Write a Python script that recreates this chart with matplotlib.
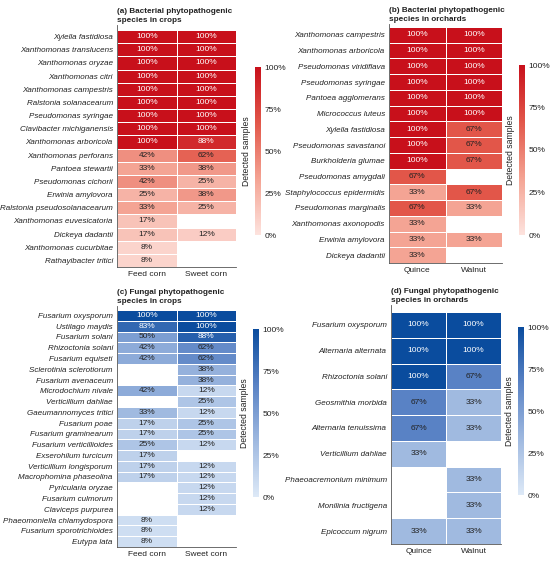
import numpy as np
import matplotlib
matplotlib.use('Agg')
import matplotlib.pyplot as plt
from matplotlib.colors import LinearSegmentedColormap

plt.rcParams['font.family'] = ['Liberation Sans', 'DejaVu Sans']

nan = np.nan

# (a) bacteria in crops
bac_crop_species = ['Xylella fastidiosa', 'Xanthomonas translucens', 'Xanthomonas oryzae',
                    'Xanthomonas citri', 'Xanthomonas campestris', 'Ralstonia solanacearum',
                    'Pseudomonas syringae', 'Clavibacter michiganensis', 'Xanthomonas arboricola',
                    'Xanthomonas perforans', 'Pantoea stewartii', 'Pseudomonas cichorii',
                    'Erwinia amylovora', 'Ralstonia pseudosolanacearum', 'Xanthomonas euvesicatoria',
                    'Dickeya dadantii', 'Xanthomonas cucurbitae', 'Rathayibacter tritici']
bac_feed = [100, 100, 100, 100, 100, 100, 100, 100, 100, 42, 33, 42, 25, 33, 17, 17, 8, 8]
bac_sweet = [100, 100, 100, 100, 100, 100, 100, 100, 88, 62, 38, 25, 38, 25, nan, 12, nan, nan]

# (b) bacteria in orchards
bac_orch_species = ['Xanthomonas campestris', 'Xanthomonas arboricola', 'Pseudomonas viridiflava',
                    'Pseudomonas syringae', 'Pantoea agglomerans', 'Micrococcus luteus',
                    'Xylella fastidiosa', 'Pseudomonas savastanoi', 'Burkholderia glumae',
                    'Pseudomonas amygdali', 'Staphylococcus epidermidis', 'Pseudomonas marginalis',
                    'Xanthomonas axonopodis', 'Erwinia amylovora', 'Dickeya dadantii']
bac_quince = [100, 100, 100, 100, 100, 100, 100, 100, 100, 67, 33, 67, 33, 33, 33]
bac_walnut = [100, 100, 100, 100, 100, 100, 67, 67, 67, nan, 67, 33, nan, 33, nan]

# (c) fungi in crops
fun_crop_species = ['Fusarium oxysporum', 'Ustilago maydis', 'Fusarium solani', 'Rhizoctonia solani',
                    'Fusarium equiseti', 'Sclerotinia sclerotiorum', 'Fusarium avenaceum',
                    'Microdochium nivale', 'Verticillium dahliae', 'Gaeumannomyces tritici',
                    'Fusarium poae', 'Fusarium graminearum', 'Fusarium verticillioides',
                    'Exserohilum turcicum', 'Verticillium longisporum', 'Macrophomina phaseolina',
                    'Pyricularia oryzae', 'Fusarium culmorum', 'Claviceps purpurea',
                    'Phaeomoniella chlamydospora', 'Fusarium sporotrichioides', 'Eutypa lata']
fun_feed = [100, 83, 50, 42, 42, nan, nan, 42, nan, 33, 17, 17, 25, 17, 17, 17, nan, nan, nan, 8, 8, 8]
fun_sweet = [100, 100, 88, 62, 62, 38, 38, 12, 25, 12, 25, 25, 12, nan, 12, 12, 12, 12, 12, nan, nan, nan]

# (d) fungi in orchards
fun_orch_species = ['Fusarium oxysporum', 'Alternaria alternata', 'Rhizoctonia solani',
                    'Geosmithia morbida', 'Alternaria tenuissima', 'Verticillium dahliae',
                    'Phaeoacremonium minimum', 'Monilinia fructigena', 'Epicoccum nigrum']
fun_quince = [100, 100, 100, 67, 67, 33, nan, nan, 33]
fun_walnut = [100, 100, 67, 33, 33, nan, 33, 33, 33]

crop_cols = ['Feed corn', 'Sweet corn']
orch_cols = ['Quince', 'Walnut']

reds = LinearSegmentedColormap.from_list('r', ['#fde3de', '#f4a393', '#e2574a', '#c8101b'])
blues = LinearSegmentedColormap.from_list('b', ['#dde9f7', '#9fb9e0', '#5a83c5', '#0a4c9e'])

W, H = 550, 561
fig = plt.figure(figsize=(W / 100, H / 100), dpi=100)


def panel(box, cbox, title, species, v1, v2, cols, cmap):
    # box / cbox in pixels: left, top(spine), top(cells), right, bottom
    left, stop, ctop, right, bottom = box
    ax = fig.add_axes([left / W, 1 - bottom / H, (right - left) / W, (bottom - stop) / H])
    data = np.array([v1, v2], dtype=float).T
    n = len(species)
    pad = n * (ctop - stop) / (bottom - ctop)
    masked = np.ma.masked_invalid(data)
    mesh = ax.pcolormesh(np.arange(3), np.arange(n + 1), masked, cmap=cmap, vmin=0, vmax=100,
                         edgecolor='white', linewidth=0.4)
    for i in range(n):
        for j in range(2):
            v = data[i, j]
            if np.isnan(v):
                continue
            ax.text(j + 0.5, i + 0.5, f'{int(v)}%', ha='center', va='center', fontsize=6,
                    color='white' if v >= 75 else '#222222')
    ax.set_ylim(n, -pad)
    ax.set_xlim(0, 2)
    ax.set_yticks(np.arange(n) + 0.5)
    ax.set_yticklabels(species, fontsize=5.8, style='italic', color='#222222')
    ax.set_xticks([0.5, 1.5])
    ax.set_xticklabels(cols, fontsize=6, color='#222222')
    ax.tick_params(length=0, pad=3)
    for s in ['top', 'right']:
        ax.spines[s].set_visible(False)
    for s in ['left', 'bottom']:
        ax.spines[s].set_color('#555555')
        ax.spines[s].set_linewidth(0.6)
    fig.text(left / W, 1 - (stop - 1) / H, title, fontsize=5.9, fontweight='bold',
             va='bottom', ha='left', linespacing=1.45, color='#222222')

    cl, ct, cr, cb_ = cbox
    cax = fig.add_axes([cl / W, 1 - cb_ / H, (cr - cl) / W, (cb_ - ct) / H])
    cb = fig.colorbar(mesh, cax=cax, ticks=[0, 25, 50, 75, 100])
    cb.outline.set_visible(False)
    cb.ax.set_yticklabels(['0%', '25%', '50%', '75%', '100%'], fontsize=6, color='#222222')
    cb.ax.tick_params(length=0, pad=2.5)
    cb.ax.yaxis.set_label_position('left')
    cb.set_label('Detected samples', fontsize=6.2, color='#222222', labelpad=3)


panel((117, 25, 30, 236, 267), (255, 67, 261, 235),
      '(a) Bacterial phytopathogenic\nspecies in crops',
      bac_crop_species, bac_feed, bac_sweet, crop_cols, reds)
panel((389, 24, 27, 502, 263), (519, 65, 525, 235),
      '(b) Bacterial phytopathogenic\nspecies in orchards',
      bac_orch_species, bac_quince, bac_walnut, orch_cols, reds)
panel((117, 306, 310, 236, 547), (253, 329, 259, 497),
      '(c) Fungal phytopathogenic\nspecies in crops',
      fun_crop_species, fun_feed, fun_sweet, crop_cols, blues)
panel((391, 305, 312, 501, 544), (518, 327, 524, 495),
      '(d) Fungal phytopathogenic\nspecies in orchards',
      fun_orch_species, fun_quince, fun_walnut, orch_cols, blues)

fig.savefig('out.png', dpi=100)
